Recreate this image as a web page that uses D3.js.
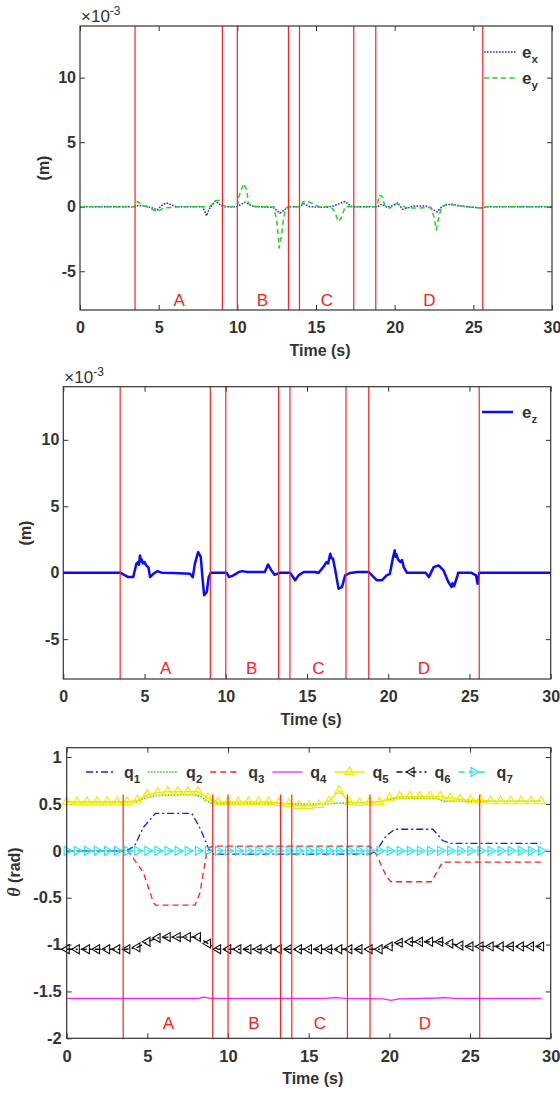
<!DOCTYPE html>
<html>
<head>
<meta charset="utf-8">
<script src="https://cdn.jsdelivr.net/npm/d3@7"></script>
<style>
  body { margin: 0; background: #fff; }
  svg text { font-family: "Liberation Sans", Arial, sans-serif; }
</style>
</head>
<body>
<script>
// time ticks and the phase markers shared by the three panels
const timeTicks = [0, 5, 10, 15, 20, 25, 30];
const phaseLines = [3.5, 9.05, 10.0, 13.25, 13.95, 17.4, 18.8, 25.6];
const phaseNames = ['A', 'B', 'C', 'D'];
const phaseMid = [6.3, 11.6, 15.7, 22.2];

// panel 1 / 2 : position errors (x1e-3 m)
const errTicks = [-5, 0, 5, 10];
const exData = [[0,0],[3.5,0],[3.7,0.1],[4.2,0.05],[4.6,-0.1],[4.9,-0.25],[5.2,0.1],[5.5,0.3],[5.8,0.15],[6.1,0],[7.8,0],[8.05,-0.7],[8.2,-0.2],[8.4,0.1],[8.6,0.45],[8.8,0.25],[9.1,0],[10.0,0],[10.2,0.15],[10.5,0.35],[10.8,0.15],[11.0,0.05],[11.4,0],[12.3,-0.05],[12.7,-0.5],[13.0,-0.25],[13.25,0],[14.0,0],[14.2,0.25],[14.6,0],[15.7,-0.05],[16.1,0.05],[16.5,0.25],[16.85,0.4],[17.2,0.05],[17.4,0],[18.9,0],[19.2,0.2],[19.5,-0.05],[19.9,0.1],[20.2,0.3],[20.5,-0.2],[20.8,-0.1],[21.2,0.05],[22.0,0.05],[22.4,-0.2],[22.7,-0.4],[23.0,0],[23.3,0.15],[23.7,0.2],[23.95,0.1],[24.6,0],[25.5,-0.1],[25.85,0],[30,0]];
const eyData = [[0,0],[3.5,0],[3.65,0.4],[4.0,0.1],[4.45,-0.1],[4.9,-0.4],[5.3,-0.1],[5.9,-0.05],[6.4,0],[8.25,0],[8.6,0.45],[8.8,0.5],[9.1,0.1],[9.3,0],[10.0,0],[10.1,0.8],[10.4,1.8],[10.6,1.3],[10.7,0.25],[11.0,0],[12.3,0],[12.5,-1.0],[12.6,-2.3],[12.65,-3.2],[12.8,-2.3],[12.95,-0.8],[13.1,-0.1],[13.35,0],[14.0,0],[14.2,0.4],[14.4,0.45],[14.85,0.2],[15.3,-0.05],[15.9,0.05],[16.2,-0.4],[16.4,-1.15],[16.6,-0.9],[16.85,0],[18.9,0],[19.0,0.9],[19.2,0.8],[19.4,0],[19.7,-0.1],[20.1,0.25],[20.35,0.15],[20.8,-0.1],[21.6,-0.1],[22.3,-0.05],[22.5,-0.8],[22.65,-1.8],[22.8,-0.8],[23.0,0],[23.3,0.2],[23.95,0.1],[24.6,0],[25.5,-0.1],[25.85,0],[30,0]];
const ezData = [[0,0],[3.5,0],[3.8,-0.2],[4.0,-0.33],[4.3,-0.33],[4.5,0.68],[4.6,0.8],[4.66,0.6],[4.72,1.3],[4.78,0.85],[4.82,1.0],[4.9,0.7],[5.0,0.8],[5.1,0.55],[5.24,0.4],[5.34,-0.33],[5.54,-0.08],[5.8,0.12],[6.05,0],[6.8,-0.02],[7.8,-0.08],[7.97,-0.33],[8.1,0.68],[8.3,1.55],[8.46,1.2],[8.58,-0.57],[8.67,-1.7],[8.83,-1.45],[8.95,-0.33],[9.08,0],[10.06,0],[10.2,-0.33],[10.47,-0.2],[10.8,0.05],[11.0,0.12],[11.3,0.05],[12.4,0.05],[12.6,0.62],[12.8,0.18],[13.0,-0.15],[13.35,0],[13.96,0],[14.27,-0.57],[14.48,-0.2],[14.8,0.05],[15.5,0.05],[15.7,-0.02],[16.0,0.42],[16.2,0.8],[16.3,0.7],[16.43,1.42],[16.5,1.1],[16.6,1.05],[16.74,0.18],[16.94,-1.2],[17.15,-1.08],[17.35,-0.2],[17.66,-0.02],[18.1,0.05],[18.8,0.05],[19.0,-0.2],[19.3,-0.57],[19.6,-0.57],[19.9,-0.2],[20.1,-0.08],[20.3,1.18],[20.4,1.68],[20.45,1.2],[20.5,1.4],[20.6,1.0],[20.75,0.8],[20.85,0.95],[20.95,0.42],[21.15,0],[22.3,0],[22.5,-0.33],[22.8,0.42],[23.1,0.55],[23.4,0.18],[23.7,-0.7],[23.8,-0.9],[23.9,-1.08],[23.95,-0.8],[24.05,-1.0],[24.1,-0.83],[24.27,-0.2],[24.3,0],[25.1,0],[25.4,-0.2],[25.5,-0.83],[25.6,0],[30,0]];

// panel 3 : joint angles (rad)
const angleTicks = [-2, -1.5, -1, -0.5, 0, 0.5, 1];
const q1Data = [[0,0],[3.7,0],[4.2,0.05],[4.75,0.25],[5.5,0.40],[7.75,0.40],[8.3,0.23],[8.8,0.02],[9.1,-0.035],[18.8,-0.035],[19.2,0],[19.8,0.16],[20.35,0.23],[22.7,0.23],[23.3,0.11],[23.75,0.08],[29.4,0.08]];
const q2Data = [[0,0.52],[4.1,0.52],[4.8,0.56],[5.5,0.59],[7.8,0.6],[8.3,0.58],[8.9,0.51],[13,0.51],[14,0.5],[16,0.5],[17,0.51],[19.3,0.52],[20.0,0.55],[20.5,0.56],[22.9,0.56],[23.4,0.53],[29.4,0.53]];
const q3Data = [[0,0],[3.8,0],[4.75,-0.23],[5.37,-0.55],[5.5,-0.58],[7.95,-0.58],[8.26,-0.45],[8.5,-0.2],[8.7,0],[8.9,0.04],[9.1,0.05],[18.8,0.05],[19.2,-0.04],[19.8,-0.27],[20.1,-0.33],[22.6,-0.33],[23.3,-0.12],[29.4,-0.12]];
const q4Data = [[0,-1.575],[8.2,-1.575],[8.5,-1.56],[8.9,-1.575],[16,-1.575],[16.7,-1.565],[17.3,-1.575],[19.6,-1.58],[20.1,-1.595],[20.6,-1.58],[23,-1.57],[23.5,-1.565],[24,-1.575],[29.4,-1.575]];
// q5..q7 are sampled at the marker times
const markerTimes = d3.range(48).map(i => i * 29.4 / 47);
const q5Vals = [0.52,0.52,0.52,0.52,0.52,0.52,0.52,0.54,0.60,0.62,0.63,0.63,0.63,0.63,0.56,0.52,0.52,0.52,0.52,0.52,0.52,0.51,0.50,0.48,0.48,0.49,0.53,0.64,0.52,0.51,0.52,0.52,0.56,0.58,0.58,0.58,0.58,0.58,0.56,0.55,0.54,0.54,0.53,0.53,0.53,0.53,0.53,0.53];
const q6Vals = [-1.05,-1.05,-1.05,-1.05,-1.05,-1.05,-1.05,-1.03,-0.97,-0.93,-0.92,-0.92,-0.92,-0.92,-0.99,-1.05,-1.05,-1.05,-1.05,-1.05,-1.05,-1.05,-1.05,-1.05,-1.05,-1.05,-1.05,-1.05,-1.05,-1.05,-1.05,-1.05,-1.02,-0.98,-0.97,-0.97,-0.97,-0.97,-0.99,-1.01,-1.02,-1.02,-1.02,-1.02,-1.02,-1.02,-1.02,-1.02];
const q7Vals = [0,0,0,0,0,0,0,0,0,0,0,0,0,0,0,0,0,0,0,0,0,0,0,0,0,0,0,0,0,0,0,0,0,0,0,0,0,0,0,0,0,0,0,0,0,0,0,0];

const W = 560, H = 1093;
const ink = '#333';
const red = '#ff2020';

const svg = d3.select('body').append('svg').attr('width', W).attr('height', H);

function drawPanel(p) {
  const x = d3.scaleLinear().domain([0, 30]).range([p.left, p.right]);
  const y = d3.scaleLinear().domain(p.yDomain).range([p.bottom, p.top]);
  const g = svg.append('g');
  const fmt = d => String(d);

  // axes, ticks pointing inwards on all four sides
  const axes = [
    [d3.axisBottom(x).tickValues(timeTicks).tickFormat(fmt).tickPadding(12), `translate(0,${p.bottom})`],
    [d3.axisTop(x).tickValues(timeTicks).tickFormat(''), `translate(0,${p.top})`],
    [d3.axisLeft(y).tickValues(p.yTicks).tickFormat(fmt).tickPadding(p.yPad), `translate(${p.left},0)`],
    [d3.axisRight(y).tickValues(p.yTicks).tickFormat(''), `translate(${p.right},0)`]
  ];
  axes.forEach(([ax, tr]) => {
    const a = g.append('g').attr('transform', tr)
      .call(ax.tickSizeInner(-5).tickSizeOuter(0));
    a.select('.domain').remove();
    a.selectAll('line').attr('stroke', ink);
    a.selectAll('text').attr('fill', ink).attr('font-size', p.fs).attr('font-weight', 'bold')
      .attr('font-family', '"Liberation Sans", Arial, sans-serif');
  });

  // data
  const line = d3.line().x(d => x(d[0])).y(d => y(d[1]));
  p.series.forEach(s => {
    g.append('path').datum(s.data).attr('d', line).attr('fill', 'none')
      .attr('stroke', s.color).attr('stroke-width', s.width || 1.3)
      .attr('stroke-dasharray', s.dash || null).attr('stroke-linejoin', 'round');
    if (s.marker !== undefined) {
      g.selectAll(null).data(s.data).enter().append('path')
        .attr('d', d3.symbol(d3.symbolTriangle, 34)())
        .attr('transform', d => `translate(${x(d[0])},${y(d[1])}) rotate(${s.marker})`)
        .attr('fill', 'none').attr('stroke', s.color).attr('stroke-width', 1.1);
    }
  });

  // phase boundaries and names
  g.selectAll(null).data(phaseLines).enter().append('line')
    .attr('x1', d => x(d)).attr('x2', d => x(d))
    .attr('y1', y(p.phaseTop)).attr('y2', p.bottom)
    .attr('stroke', red).attr('stroke-width', 1.2);
  g.selectAll(null).data(phaseNames).enter().append('text')
    .attr('x', (d, i) => x(phaseMid[i])).attr('y', y(p.nameY))
    .attr('text-anchor', 'middle').attr('font-size', 17).attr('fill', red).text(d => d);

  // frame
  g.append('rect').attr('x', p.left).attr('y', p.top)
    .attr('width', p.right - p.left).attr('height', p.bottom - p.top)
    .attr('fill', 'none').attr('stroke', ink).attr('stroke-width', 1.2);

  // labels
  g.append('text').attr('x', (p.left + p.right) / 2 + 4).attr('y', p.bottom + 46)
    .attr('text-anchor', 'middle').attr('font-size', 16).attr('font-weight', 'bold')
    .attr('fill', ink).text('Time (s)');
  const yl = g.append('text').attr('transform', `translate(${p.ylabX},${p.ylabY}) rotate(-90)`)
    .attr('text-anchor', 'middle').attr('font-size', 16).attr('font-weight', 'bold').attr('fill', ink);
  if (p.theta) {
    yl.append('tspan').attr('font-style', 'italic').attr('font-family', '"Liberation Serif", serif')
      .attr('font-size', 18).text('θ');
    yl.append('tspan').text(' (rad)');
  } else {
    yl.text('(m)');
  }
  if (p.exponent) {
    const ex = g.append('text').attr('x', p.left + 1).attr('y', p.top - 4)
      .attr('font-size', 17).attr('fill', ink);
    ex.append('tspan').text('×10');
    ex.append('tspan').attr('dy', -7).attr('font-size', 12).text('-3');
  }

  // legend
  p.legend.forEach(l => {
    g.append('line').attr('x1', l.x1).attr('x2', l.x2).attr('y1', l.y).attr('y2', l.y)
      .attr('stroke', l.s.color).attr('stroke-width', l.s.width || 1.3)
      .attr('stroke-dasharray', l.s.dash || null);
    if (l.s.marker !== undefined) {
      g.append('path').attr('d', d3.symbol(d3.symbolTriangle, 34)())
        .attr('transform', `translate(${(l.x1 + l.x2) / 2},${l.y}) rotate(${l.s.marker})`)
        .attr('fill', 'none').attr('stroke', l.s.color).attr('stroke-width', 1.1);
    }
    const t = g.append('text').attr('x', l.tx).attr('y', l.y + 6)
      .attr('font-size', l.fs || 17).attr('font-weight', 'bold').attr('fill', ink);
    t.append('tspan').text(l.base);
    t.append('tspan').attr('dy', 5).attr('font-size', 11.5).text(l.sub);
  });
}

const exS = { data: exData, color: '#2a2ad8', dash: '1.6,1.4', width: 1.5 };
const eyS = { data: eyData, color: '#22d622', dash: '5,3.5', width: 1.5 };
drawPanel({
  left: 80, right: 552, top: 26, bottom: 310, yDomain: [-8, 14], yTicks: errTicks,
  yPad: 4, fs: 16, phaseTop: 14, nameY: -7.7, ylabX: 49, ylabY: 168, exponent: true,
  series: [exS, eyS],
  legend: [
    { s: exS, x1: 484, x2: 516, y: 52, tx: 522, base: 'e', sub: 'x' },
    { s: eyS, x1: 484, x2: 516, y: 78, tx: 522, base: 'e', sub: 'y' }
  ]
});

const ezS = { data: ezData, color: '#0a0aff', width: 2.5 };
drawPanel({
  left: 63.3, right: 550.7, top: 386.7, bottom: 679, yDomain: [-8, 14], yTicks: errTicks,
  yPad: 4, fs: 16, phaseTop: 14, nameY: -7.65, ylabX: 31, ylabY: 533, exponent: true,
  series: [ezS],
  legend: [{ s: ezS, x1: 482, x2: 513, y: 412, tx: 522, base: 'e', sub: 'z' }]
});

const qStyles = [
  { data: q1Data, color: '#1a1aff', dash: '7,3,2,3' },
  { data: q2Data, color: '#1fcf1f', dash: '1.5,1.5', width: 1.5 },
  { data: q3Data, color: '#ff2020', dash: '6,4' },
  { data: q4Data, color: '#ff22ff' },
  { data: markerTimes.map((t, i) => [t, q5Vals[i]]), color: '#f2ea00', width: 1.5, marker: 0 },
  { data: markerTimes.map((t, i) => [t, q6Vals[i]]), color: '#111', dash: '6,3,2,3', marker: -90 },
  { data: markerTimes.map((t, i) => [t, q7Vals[i]]), color: '#1ee4ee', dash: '6,4', marker: 90 }
];
drawPanel({
  left: 66.7, right: 550.7, top: 747.7, bottom: 1038.3, yDomain: [-2, 1.1], yTicks: angleTicks,
  yPad: 5, fs: 16.5, phaseTop: 0.6, nameY: -1.9, ylabX: 20, ylabY: 872, theta: true,
  series: qStyles,
  legend: qStyles.map((s, i) => {
    const tx = 124 + i * 62.1;
    return { s, x1: tx - 38, x2: tx - 8, y: 772, tx, base: 'q', sub: String(i + 1), fs: 16 };
  })
});
</script>
</body>
</html>
